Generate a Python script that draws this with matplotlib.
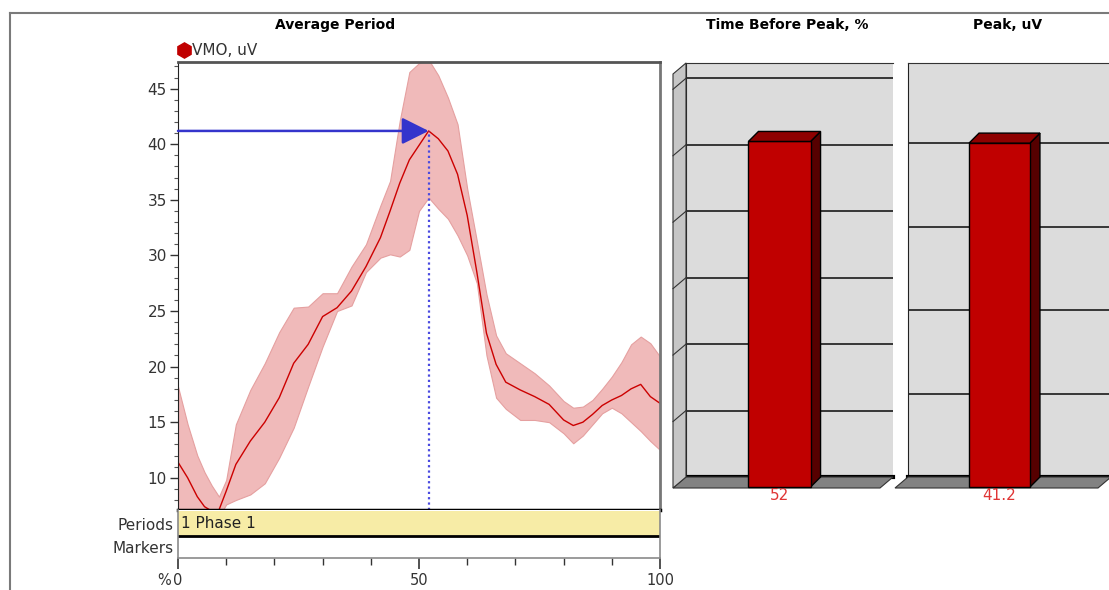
import numpy as np
import matplotlib
matplotlib.use("Agg")
import matplotlib.pyplot as plt
from matplotlib.patches import Polygon, Rectangle
from matplotlib.lines import Line2D
from matplotlib.ticker import MultipleLocator, FixedLocator

plt.rcParams['font.family'] = ['DejaVu Sans']

# VMO average period, x in % of period
pct = [0, 2, 4, 5.5, 7, 8.5, 10, 12, 15, 18, 21, 24, 27, 30, 33, 36, 39, 42, 44, 46,
       48, 50, 52, 54, 56, 58, 60, 62, 64, 66, 68, 71, 74, 77, 80, 82, 84, 86, 88, 90,
       92, 94, 96, 98, 100]
vmo_mean = [11.4, 10.0, 8.3, 7.4, 7.0, 7.1, 8.8, 11.2, 13.3, 15.0, 17.2, 20.3, 22.0, 24.5,
            25.3, 26.8, 29.0, 31.6, 34.0, 36.5, 38.6, 39.9, 41.2, 40.5, 39.4, 37.3, 33.6,
            28.5, 23.0, 20.2, 18.6, 17.9, 17.3, 16.6, 15.2, 14.7, 15.0, 15.7, 16.5, 17.0,
            17.4, 18.0, 18.4, 17.3, 16.7]
vmo_upper = [18.2, 14.8, 12.0, 10.5, 9.3, 8.3, 9.8, 14.8, 17.9, 20.3, 23.1, 25.3, 25.4, 26.6,
             26.6, 29.0, 31.0, 34.5, 36.7, 42.1, 46.5, 47.3, 47.6, 46.2, 44.2, 41.8, 36.0,
             31.3, 26.5, 22.8, 21.2, 20.3, 19.4, 18.3, 16.9, 16.3, 16.4, 17.0, 18.0, 19.1,
             20.4, 22.0, 22.7, 22.1, 20.9]
vmo_lower = [4.5, 3.8, 3.5, 4.0, 5.0, 6.5, 7.6, 8.0, 8.5, 9.5, 11.8, 14.5, 18.2, 21.8,
             25.0, 25.5, 28.5, 29.8, 30.1, 29.9, 30.5, 34.0, 35.2, 34.2, 33.3, 31.8, 30.0,
             27.5, 21.0, 17.2, 16.2, 15.2, 15.2, 15.0, 14.0, 13.1, 13.8, 14.8, 15.8, 16.3,
             15.8, 15.0, 14.2, 13.3, 12.5]

peak_time = 52
peak_value = 41.2

bar_titles = ["Time Before Peak, %", "Peak, uV"]
bar_values = [52, 41.2]
bar_labels = ["52", "41.2"]

W, H = 1109, 590
fig = plt.figure(figsize=(W / 100, H / 100), dpi=100)


def px_axes(l, t, r, b):
    return fig.add_axes([l / W, 1 - b / H, (r - l) / W, (b - t) / H])


# outer frame
fig.add_artist(Line2D([10 / W, 1], [1 - 13 / H, 1 - 13 / H], color='#7a7a7a', lw=1.5))
fig.add_artist(Line2D([10 / W, 10 / W], [0, 1 - 13 / H], color='#7a7a7a', lw=1.5))

# main plot
ax = px_axes(178, 62, 660, 510)
ylo, yhi = 7.1, 47.4
ax.fill_between(pct, vmo_lower, vmo_upper, facecolor='#f0baba', edgecolor='#e5a0a0', lw=0.8)
ax.plot(pct, vmo_mean, color='#cc0000', lw=1)
ax.plot([peak_time, peak_time], [ylo, peak_value], color='#4a4ae0', lw=1.6, ls=(0, (1, 1.4)))
ax.annotate('', xy=(peak_time, peak_value), xytext=(0, peak_value),
            arrowprops=dict(arrowstyle='-|>,head_length=1.0,head_width=0.5', color='#3434cc',
                            lw=1.8, mutation_scale=16.5, shrinkA=0, shrinkB=0))
ax.set_xlim(0, 100)
ax.set_ylim(ylo, yhi)
ax.set_xticks([])
ax.yaxis.set_major_locator(MultipleLocator(5))
ax.yaxis.set_minor_locator(MultipleLocator(1))
ax.tick_params(axis='y', which='major', length=6, width=1, labelsize=11, pad=2,
               color='#333333', labelcolor='#333333')
ax.tick_params(axis='y', which='minor', length=3, width=0.8, color='#555555')
ax.spines['left'].set_color('#222222')
ax.spines['top'].set_color('#555555')
ax.spines['top'].set_linewidth(2)
ax.spines['right'].set_color('#777777')
ax.spines['right'].set_linewidth(2)
ax.spines['bottom'].set_color('black')
ax.spines['bottom'].set_linewidth(2.5)

leg = ax.legend(handles=[Line2D([], [], marker='h', ls='', color='#c00000', ms=11)],
                labels=['VMO, uV'], loc='lower left', bbox_to_anchor=(-0.0, 1.008),
                frameon=False, handlelength=0.8, handletextpad=0.1, borderaxespad=0,
                borderpad=0, fontsize=11)
for t in leg.get_texts():
    t.set_color('#333333')

fig.text(335 / W, 1 - 25 / H, 'Average Period', ha='center', va='center',
         fontsize=10, weight='bold')

# periods / markers band
axb = px_axes(178, 510, 660, 558)
axb.set_xlim(0, 100)
axb.set_ylim(48, 0)
axb.add_patch(Rectangle((0, 1), 100, 25, facecolor='#f7eca6', edgecolor='none'))
axb.axhline(26, color='black', lw=2)
axb.text(0.6, 13.5, '1 Phase 1', ha='left', va='center', fontsize=11, color='#222222')
axb.set_yticks([13.5, 37])
axb.set_yticklabels(['Periods', 'Markers'])
axb.tick_params(axis='y', length=0, labelsize=11, pad=3, labelcolor='#333333')
for s in ['left', 'right', 'bottom']:
    axb.spines[s].set_color('#8a8a8a')
    axb.spines[s].set_linewidth(1.2)
axb.spines['top'].set_visible(False)
axb.xaxis.set_major_locator(FixedLocator([0, 50, 100]))
axb.xaxis.set_minor_locator(MultipleLocator(10))
axb.set_xticklabels(['0', '50', '100'])
axb.tick_params(axis='x', which='major', length=8, width=1.2, labelsize=10.5, pad=3,
                color='#333333', labelcolor='#333333')
axb.tick_params(axis='x', which='minor', length=5, width=1, color='#333333')
fig.text(171 / W, 1 - 573 / H, '%', ha='right', va='top', fontsize=10.5, color='#333333')

# 3D-looking bar panels
panels = [
    dict(l=686, r=893, ytop=62.3, grid=[10, 20, 30, 40, 50, 60], wall=True),
    dict(l=908, r=1111, ytop=49.6, grid=[10, 20, 30, 40], wall=False),
]
for i, p in enumerate(panels):
    axp = px_axes(p['l'], 63, p['r'], 477)
    axp.set_facecolor('#dcdcdc')
    axp.set_xlim(-0.5, 0.5)
    axp.set_ylim(0, p['ytop'])
    axp.set_xticks([])
    axp.set_yticks(p['grid'])
    axp.yaxis.grid(True, color='#1a1a1a', lw=1.2)
    axp.tick_params(axis='y', length=0, labelleft=False)
    axp.spines['right'].set_visible(False)
    axp.spines['top'].set_color('#333333')
    axp.spines['left'].set_color('#222222')
    axp.spines['bottom'].set_color('black')
    axp.spines['bottom'].set_linewidth(3)

    p0 = axp.transData.transform((0, 0))
    p1 = axp.transData.transform((1, 1))
    sx, sy = p1[0] - p0[0], p1[1] - p0[1]
    fdx, fdy = 13 / sx, 11 / sy
    bdx, bdy = 10 / sx, 10 / sy

    # floor
    axp.add_patch(Polygon([(-0.5, 0), (0.5, 0), (0.5 - fdx, -fdy), (-0.5 - fdx, -fdy)],
                          closed=True, facecolor='#828282', edgecolor='#333333', lw=0.8,
                          clip_on=False, zorder=3))
    if p['wall']:
        yt = p['ytop']
        axp.add_patch(Polygon([(-0.5, 0), (-0.5, yt), (-0.5 - fdx, yt - fdy), (-0.5 - fdx, -fdy)],
                              closed=True, facecolor='#c6c6c6', edgecolor='#333333', lw=0.8,
                              clip_on=False, zorder=3))
        for g in p['grid']:
            axp.plot([-0.5, -0.5 - fdx], [g, g - fdy], color='#333333', lw=0.8,
                     clip_on=False, zorder=4)

    v = bar_values[i]
    w = 0.3
    axp.bar(-bdx, v, width=w, bottom=-bdy, color='#c00000', edgecolor='black', lw=1,
            clip_on=False, zorder=6)
    axp.add_patch(Polygon([(-w / 2 - bdx, v - bdy), (w / 2 - bdx, v - bdy), (w / 2, v), (-w / 2, v)],
                          closed=True, facecolor='#8e0000', edgecolor='black', lw=1,
                          clip_on=False, zorder=6))
    axp.add_patch(Polygon([(w / 2 - bdx, v - bdy), (w / 2, v), (w / 2, 0), (w / 2 - bdx, -bdy)],
                          closed=True, facecolor='#560000', edgecolor='black', lw=1,
                          clip_on=False, zorder=5))
    axp.text(-bdx, -fdy, bar_labels[i], ha='center', va='top', color='#e03535', fontsize=11,
             transform=axp.transData)

fig.text(787 / W, 1 - 25 / H, bar_titles[0], ha='center', va='center', fontsize=10, weight='bold')
fig.text(1008 / W, 1 - 25 / H, bar_titles[1], ha='center', va='center', fontsize=10, weight='bold')

fig.savefig('out.png', dpi=100)
